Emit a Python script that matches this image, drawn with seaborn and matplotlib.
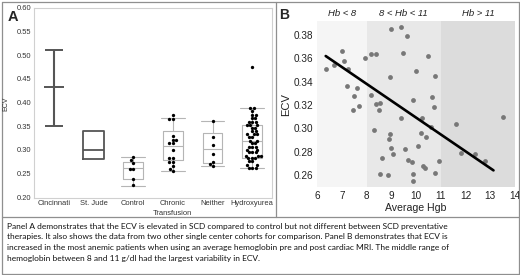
import matplotlib
matplotlib.use("Agg")
import numpy as np
import pandas as pd
import seaborn as sns
import matplotlib.pyplot as plt
from matplotlib.lines import Line2D

# ---------------- data: panel A ----------------
categories = ["Cincinnati", "St. Jude", "Control", "Chronic\nTransfusion", "Neither", "Hydroxyurea"]

cin_mean, cin_lo, cin_hi = 0.432, 0.350, 0.510

box_groups = ["St. Jude", "Control", "Chronic\nTransfusion", "Neither", "Hydroxyurea"]
box_q1 = [0.281, 0.239, 0.278, 0.272, 0.283]
box_med = [0.299, 0.262, 0.309, 0.302, 0.318]
box_q3 = [0.339, 0.274, 0.339, 0.336, 0.353]
box_wlo = [0.281, 0.225, 0.255, 0.266, 0.262]
box_whi = [0.339, 0.2855, 0.367, 0.362, 0.388]

control_ecv = [0.2855, 0.278, 0.273, 0.261, 0.261, 0.239, 0.226]
chronic_ecv = [0.373, 0.365, 0.365, 0.330, 0.321, 0.321, 0.314, 0.314, 0.301,
               0.283, 0.283, 0.275, 0.275, 0.266, 0.260, 0.255]
neither_ecv = [0.362, 0.3275, 0.310, 0.292, 0.275, 0.270, 0.266]
hydroxy_ecv = [0.475,
               0.388, 0.388, 0.382, 0.374, 0.374, 0.367, 0.367,
               0.360, 0.360, 0.360, 0.353, 0.353, 0.353, 0.347, 0.347,
               0.340, 0.340, 0.333, 0.333, 0.333, 0.327, 0.327,
               0.320, 0.320, 0.314, 0.314, 0.307, 0.307, 0.307,
               0.301, 0.301, 0.295, 0.295, 0.295, 0.288, 0.288, 0.288,
               0.283, 0.283, 0.283, 0.276, 0.276, 0.269, 0.269,
               0.263, 0.263, 0.263]

# ---------------- data: panel B ----------------
hgb = [6.34, 6.68, 6.99, 7.08, 7.23, 7.19, 7.59, 7.49, 7.70, 7.43,
       7.94, 8.17, 8.39, 8.18, 8.54, 8.38, 8.49, 8.97, 9.39, 9.63,
       9.47, 9.98, 8.93, 9.89, 9.40, 8.28, 8.94, 8.89, 8.97, 9.54,
       9.08, 8.63, 9.67, 9.83, 8.54, 8.88, 9.87, 9.87, 10.47, 10.78,
       10.63, 10.72, 10.23, 10.59, 10.19, 10.39, 10.08, 10.27, 10.35, 10.94,
       10.78, 11.63, 13.53, 11.82, 12.38, 12.78]
ecv_b = [0.351, 0.354, 0.366, 0.358, 0.351, 0.336, 0.335, 0.328, 0.319, 0.316,
         0.360, 0.364, 0.364, 0.329, 0.322, 0.321, 0.316, 0.385, 0.387, 0.379,
         0.365, 0.349, 0.344, 0.324, 0.309, 0.299, 0.295, 0.291, 0.283, 0.282,
         0.278, 0.275, 0.273, 0.271, 0.261, 0.260, 0.261, 0.255, 0.362, 0.345,
         0.327, 0.318, 0.309, 0.301, 0.296, 0.293, 0.285, 0.268, 0.266, 0.272,
         0.262, 0.304, 0.310, 0.279, 0.278, 0.272]
fit_x = [6.34, 13.13]
fit_y = [0.362, 0.264]

region_edges = [6, 8, 11, 14]
region_labels = ["Hb < 8", "8 < Hb < 11", "Hb > 11"]

caption = [
    "Panel A demonstrates that the ECV is elevated in SCD compared to control but not different between SCD preventative",
    "therapies. It also shows the data from two other single center cohorts for comparison. Panel B demonstrates that ECV is",
    "increased in the most anemic patients when using an average hemoglobin pre and post cardiac MRI. The middle range of",
    "hemoglobin between 8 and 11 g/dl had the largest variability in ECV.",
]

# ---------------- figure ----------------
sns.set_theme(style="white")
plt.rcParams["font.family"] = ["Liberation Sans", "DejaVu Sans"]

W, H = 520, 275
fig = plt.figure(figsize=(W / 100, H / 100), dpi=100)
fig.patch.set_facecolor("white")


def fx(px):
    return px / W


def fy(py):
    return 1 - py / H


# ---- Panel A ----
axA = fig.add_axes([fx(34), fy(197.5), fx(272) - fx(34), fy(7.5) - fy(197.5)])
df = pd.DataFrame({
    "group": ["Control"] * len(control_ecv) + ["Chronic\nTransfusion"] * len(chronic_ecv)
    + ["Neither"] * len(neither_ecv) + ["Hydroxyurea"] * len(hydroxy_ecv),
    "ecv": control_ecv + chronic_ecv + neither_ecv + hydroxy_ecv,
})
sns.swarmplot(data=df, x="group", y="ecv", order=categories, color="black",
              size=2.4, ax=axA, zorder=3)

stats_dark = []
stats_light = []
for g, a, m, b, lo, hi in zip(box_groups, box_q1, box_med, box_q3, box_wlo, box_whi):
    st = dict(q1=a, med=m, q3=b, whislo=lo, whishi=hi, fliers=[])
    (stats_dark if g == "St. Jude" else stats_light).append(st)

axA.bxp(stats_dark, positions=[categories.index("St. Jude")], widths=0.52,
        showcaps=False, showfliers=False,
        boxprops=dict(color="#555555", lw=1.3),
        medianprops=dict(color="#555555", lw=1.3),
        whiskerprops=dict(color="#555555", lw=1.3))
axA.bxp(stats_light, positions=[categories.index(g) for g in box_groups[1:]],
        widths=0.5, capwidths=0.6, showfliers=False,
        boxprops=dict(color="#b5b5b5", lw=0.8),
        medianprops=dict(color="#b5b5b5", lw=0.8),
        whiskerprops=dict(color="#b5b5b5", lw=0.8),
        capprops=dict(color="#b5b5b5", lw=0.8))

axA.errorbar([categories.index("Cincinnati")], [cin_mean],
             yerr=[[cin_mean - cin_lo], [cin_hi - cin_mean]],
             fmt="_", markersize=15, mew=1.4, capsize=6.5, capthick=1.4,
             elinewidth=1.5, color="#555555", zorder=2)

axA.set_xlim(-0.5, 5.5)
axA.set_ylim(0.2, 0.6)
yt = np.arange(0.20, 0.601, 0.05)
axA.set_yticks(yt)
axA.set_yticklabels([f"{v:.2f}" for v in yt])
axA.set_xticks(range(len(categories)))
axA.set_xticklabels(categories, linespacing=1.5)
axA.tick_params(axis="both", length=0, labelsize=5.4, colors="#333333", pad=2)
axA.set_xlabel("")
axA.set_ylabel("")
for s in axA.spines.values():
    s.set_color("#d0d0d0")
    s.set_linewidth(0.8)
fig.text(fx(6), fy(104), "ECV", rotation=90, fontsize=5, color="#333333",
         ha="center", va="center")
fig.text(fx(12.5), fy(17), "A", fontsize=10.5, weight="bold", ha="center", va="center")

# ---- Panel B ----
axB = fig.add_axes([fx(317.3), fy(187.3), fx(515) - fx(317.3), fy(21) - fy(187.3)])
shades = ["#f5f5f5", "#e8e8e8", "#dcdcdc"]
for i in range(3):
    axB.axvspan(region_edges[i], region_edges[i + 1], color=shades[i], lw=0, zorder=0)
    axB.text((region_edges[i] + region_edges[i + 1]) / 2, 1.045, region_labels[i],
             transform=axB.get_xaxis_transform(), ha="center", va="center",
             fontsize=6.8, style="italic", color="#222222")
sns.scatterplot(x=hgb, y=ecv_b, color="#777777", s=12, linewidth=0, ax=axB, zorder=2)
sns.lineplot(x=fit_x, y=fit_y, color="black", lw=1.9, ax=axB, zorder=3)
axB.set_xlim(6, 14)
axB.set_ylim(0.2495, 0.392)
axB.set_xticks(range(6, 15))
ytb = np.arange(0.26, 0.381, 0.02)
axB.set_yticks(ytb)
axB.set_yticklabels([f"{v:.2f}" for v in ytb])
axB.tick_params(axis="both", length=0, labelsize=7.2, colors="#222222", pad=3)
for s in axB.spines.values():
    s.set_visible(False)
axB.set_xlabel("Average Hgb", fontsize=7.6, color="#222222", labelpad=1)
axB.set_ylabel("ECV", fontsize=8, color="#222222", labelpad=2)
fig.text(fx(284), fy(15), "B", fontsize=10, weight="bold", ha="center", va="center")

# ---- frames ----
bc = "#8f8f8f"
segs = [
    ((1.5, 1.5), (518.5, 1.5)),
    ((1.5, 273.5), (518.5, 273.5)),
    ((1.5, 1.5), (1.5, 273.5)),
    ((518.5, 1.5), (518.5, 273.5)),
    ((1.5, 217), (518.5, 217)),
    ((276, 1.5), (276, 217)),
]
for (x0, y0), (x1, y1) in segs:
    fig.add_artist(Line2D([fx(x0), fx(x1)], [fy(y0), fy(y1)], color=bc, lw=0.9,
                          transform=fig.transFigure))

# ---- caption ----
for i, line in enumerate(caption):
    fig.text(fx(7), fy(226 + i * 10.8), line, fontsize=6.0, family=["Lato", "DejaVu Sans"],
             ha="left", va="center", color="#111111")

fig.savefig("out.png", dpi=100, facecolor="white")
